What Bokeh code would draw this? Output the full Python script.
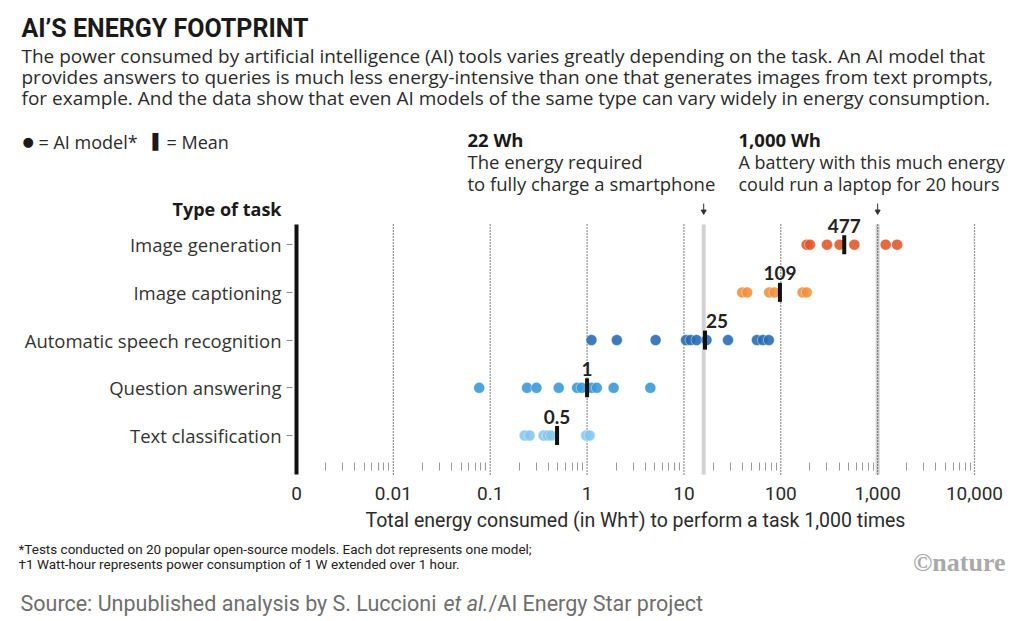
from bokeh.plotting import figure
from bokeh.models import (Label, ColumnDataSource, FixedTicker, CustomJSTickFormatter,
                          Range1d, LogScale, LinearScale, LogAxis, LinearAxis)
from bokeh.core.properties import value
from bokeh.embed import file_html
from bokeh.resources import INLINE

# ---------------- data ----------------
tasks = ["Image generation", "Image captioning", "Automatic speech recognition",
         "Question answering", "Text classification"]
task_rows = [4, 3, 2, 1, 0]
img_gen = [185, 200, 300, 405, 575, 1210, 1590]
img_cap = [40, 45, 76, 86, 168, 185]
asr = [1.11, 2.03, 5.1, 10.5, 11.7, 13.5, 17.1, 28.5, 56.7, 65.3, 75.3]
qa = [0.077, 0.24, 0.30, 0.51, 0.79, 0.88, 1.11, 1.26, 1.88, 4.5]
txt_cls = [0.227, 0.255, 0.356, 0.391, 0.425, 0.98, 1.06]
mean_pos = [452, 98, 16.5, 1.0, 0.49]
mean_labels = ["477", "109", "25", "1", "0.5"]
ref_pos = [16, 1000]
xticks = [0.001, 0.01, 0.1, 1, 10, 100, 1000, 10000]
xtick_labels = ["0", "0.01", "0.1", "1", "10", "100", "1,000", "10,000"]

colors = ["#e0592b", "#f2913f", "#2a6cb4", "#3b99d8", "#86c6ec"]
series = [img_gen, img_cap, asr, qa, txt_cls]

# ---------------- layout constants (pixels) ----------------
W, H = 1024, 621
DEC = 96.857                 # pixels per decade on the energy axis
AX0, AX1 = 296, 974          # where 0.001 and 10000 sit
ROW0, ROWH = 435, 47.7       # pixel of the last row, row spacing
AXIS_Y = 474                 # energy axis position
LINE_TOP = 224               # top of the vertical guide lines
BODY = "Open Sans"

p = figure(width=W, height=H, x_range=Range1d(0, W), y_range=Range1d(H, 0),
           min_border=0, x_axis_location=None, y_axis_location=None,
           output_backend="svg", toolbar_location=None, outline_line_color=None)
for g in p.grid:
    g.visible = False

p.extra_x_ranges = {"log": Range1d(10 ** (-3 - AX0 / DEC), 10 ** (4 + (W - AX1) / DEC))}
p.extra_x_scales = {"log": LogScale()}
p.extra_y_ranges = {"rows": Range1d((ROW0 - H) / ROWH, ROW0 / ROWH)}
p.extra_y_scales = {"rows": LinearScale()}

y_bot = (ROW0 - AXIS_Y) / ROWH
y_top = (ROW0 - LINE_TOP) / ROWH

# ---------------- axes ----------------
minor = [m * 10 ** e for e in range(-3, 4) for m in range(2, 10)]
xa = LogAxis(x_range_name="log", fixed_location=AXIS_Y, bounds=(xticks[0], xticks[-1]),
             ticker=FixedTicker(ticks=xticks, minor_ticks=minor))
xa.formatter = CustomJSTickFormatter(args=dict(tvals=xticks, tlabs=xtick_labels), code="""
for (let i = 0; i < tvals.length; i++) {
  if (Math.abs(Math.log10(tick) - Math.log10(tvals[i])) < 1e-6) return tlabs[i];
}
return "";
""")
xa.axis_line_color = None
xa.major_tick_line_color = None
xa.minor_tick_line_color = "#9a9a9a"
xa.minor_tick_in = 12
xa.minor_tick_out = -4
xa.major_label_standoff = 6
xa.major_label_text_font = "Roboto"
xa.major_label_text_font_size = "19px"
xa.major_label_text_color = "#2b2b2b"
xa.axis_label = "Total energy consumed (in Wh\u2020) to perform a task 1,000 times"
xa.axis_label_text_font = "Roboto"
xa.axis_label_text_font_size = "19.5px"
xa.axis_label_text_font_style = "normal"
xa.axis_label_text_color = "#2b2b2b"
xa.axis_label_standoff = 6
p.add_layout(xa, "below")

ya = LinearAxis(y_range_name="rows", fixed_location=AX0 - 4, bounds=(y_bot, y_top),
                ticker=FixedTicker(ticks=task_rows, minor_ticks=[]))
ya.major_label_overrides = {r: t for r, t in zip(task_rows, tasks)}
ya.axis_line_color = None
ya.major_tick_out = 6
ya.major_tick_in = 0
ya.major_tick_line_color = "#8a8a8a"
ya.minor_tick_line_color = None
ya.major_label_standoff = 5
ya.major_label_text_font = BODY
ya.major_label_text_font_size = "18.5px"
ya.major_label_text_color = "#333333"
p.add_layout(ya, "left")

# ---------------- chart marks ----------------
XR = dict(x_range_name="log", y_range_name="rows")
n = len(ref_pos)
p.segment(x0=ref_pos, y0=[y_bot] * n, x1=ref_pos, y1=[y_top] * n,
          line_color="#d2d2d2", line_width=4, **XR)
dec = xticks[1:]
p.segment(x0=dec, y0=[y_bot] * len(dec), x1=dec, y1=[y_top] * len(dec),
          line_color="#333333", line_width=1.3, line_dash="1 2", **XR)
p.segment(x0=xticks[:1], y0=[y_bot], x1=xticks[:1], y1=[y_top],
          line_color="#111111", line_width=4, **XR)

# arrows above the reference lines
p.segment(x0=ref_pos, y0=[203] * n, x1=ref_pos, y1=[212] * n, x_range_name="log",
          line_color="#333333", line_width=1)
p.scatter(x=ref_pos, y=[211] * n, x_range_name="log", marker="inverted_triangle",
          size=5, fill_color="#333333", line_color="#333333")

for row, vals, c in zip(task_rows, series, colors):
    src = ColumnDataSource(dict(x=vals, y=[row] * len(vals)))
    p.scatter("x", "y", source=src, size=11, fill_color=c, fill_alpha=0.9,
              line_color="white", line_alpha=0.5, line_width=0.8, **XR)

msrc = ColumnDataSource(dict(x=mean_pos, y=task_rows))
p.rect("x", "y", source=msrc, width=4, height=19, width_units="screen",
       height_units="screen", fill_color="#111111", line_color=None, **XR)
for xv, yv, t in zip(mean_pos, task_rows, mean_labels):
    p.add_layout(Label(x=xv, y=yv, x_offset=12 if t == "25" else 0, y_offset=19,
                       text=t, text_font="Lato", text_font_style="bold",
                       text_font_size="19px", text_color="#222222",
                       text_align="center", text_baseline="middle", **XR))


# ---------------- texts ----------------
def txt(x, y, t, size, color="#2b2b2b", font=BODY, style="normal", align="left"):
    p.text(x=[x], y=[y], text=[t], text_font=value(font), text_font_size=f"{size}px",
           text_font_style=style, text_color=color, text_align=align,
           text_baseline="middle")


txt(21, 28, "AI\u2019S ENERGY FOOTPRINT", 25, "#1a1a1a", "Roboto", "bold")
sub = ["The power consumed by artificial intelligence (AI) tools varies greatly depending on the task. An AI model that",
       "provides answers to queries is much less energy-intensive than one that generates images from text prompts,",
       "for example. And the data show that even AI models of the same type can vary widely in energy consumption."]
for i, s in enumerate(sub):
    txt(21, 55 + 21 * i, s, 19)

txt(22, 141, "\u25CF", 13, "#1a1a1a", "DejaVu Sans")
txt(38, 141, "= AI model*", 18)
txt(152, 141, "\u258C", 15, "#1a1a1a", "DejaVu Sans")
txt(166, 141, "= Mean", 18)

txt(467, 139, "22 Wh", 18.5, "#1a1a1a", BODY, "bold")
txt(467, 161, "The energy required", 18.5)
txt(467, 183, "to fully charge a smartphone", 18.5)
txt(738, 139, "1,000 Wh", 18.5, "#1a1a1a", BODY, "bold")
txt(738, 161, "A battery with this much energy", 18)
txt(738, 183, "could run a laptop for 20 hours", 18)
txt(281, 208, "Type of task", 18, "#1a1a1a", BODY, "bold", "right")

txt(18, 548, "*Tests conducted on 20 popular open-source models. Each dot represents one model;", 13.5, "#222222", "Roboto")
txt(18, 563, "\u20201 Watt-hour represents power consumption of 1 W extended over 1 hour.", 13.5, "#222222", "Roboto")
txt(1005, 562, "\u00A9nature", 26, "#a9a9a9", "Liberation Serif", "bold", "right")
txt(20, 603, "Source: Unpublished analysis by S. Luccioni", 21.5, "#6e6e6e", "Roboto")
txt(443, 603, "et al.", 21.5, "#6e6e6e", "Roboto", "italic")
txt(488, 603, "/AI Energy Star project", 21.5, "#6e6e6e", "Roboto")

open("out.html", "w").write(file_html(p, INLINE))
